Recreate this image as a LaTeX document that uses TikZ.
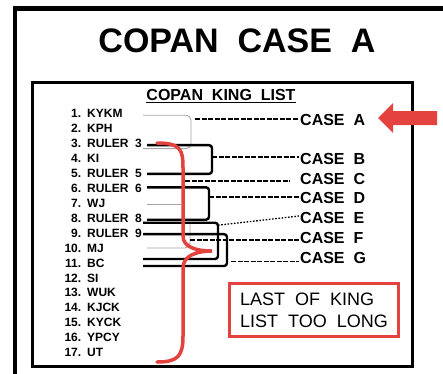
\documentclass[tikz,border=0pt]{standalone}
\usepackage{fontspec}
\setmainfont{Liberation Sans}
\usetikzlibrary{calc}

\definecolor{alertred}{RGB}{228,66,62}
\definecolor{faintgray}{RGB}{165,165,165}
\newcommand{\kingnum}[1]{\makebox[17pt][r]{#1.}\hspace{6pt}}

\begin{document}
\begin{tikzpicture}[
                x=1pt, y=-1pt,
                king/.style={anchor=west, inner sep=0pt, font=\fontsize{12}{14}\selectfont\bfseries},
                case/.style={anchor=west, inner sep=1pt, font=\fontsize{16}{18}\selectfont\bfseries},
                bracket/.style={draw=black, line width=2.4pt, rounded corners=3pt},
                faint/.style={draw=faintgray, line width=0.9pt, rounded corners=5pt},
                link/.style={draw=black, line width=1.3pt, dash pattern=on 5pt off 1.5pt},
                dotlink/.style={draw=black, line width=1.3pt, dash pattern=on 1.6pt off 1.6pt},
                brace/.style={draw=alertred, line width=3.5pt, line cap=round}
            ]
                \useasboundingbox (0,0) rectangle (443,373);

                % frames
                \draw[line width=4.5pt] (15,380) -- (15,8.5) -- (450,8.5);
                \draw[line width=3pt] (32,82) rectangle (412,366);

                \node[font=\fontsize{34}{40}\selectfont\bfseries] (title) at (237,41) {COPAN\ \ CASE\ \ A};
                \node[font=\fontsize{16}{18}\selectfont\bfseries] (listhead) at (221,96) {\underline{COPAN\ \ KING\ \ LIST}};

                % the king list
                \node[king] (k1) at (64,113.7) {\kingnum{1}KYKM};
                \node[king] (k2) at (64,128.6) {\kingnum{2}KPH};
                \node[king] (k3) at (64,143.6) {\kingnum{3}RULER\ \ 3};
                \node[king] (k4) at (64,158.5) {\kingnum{4}KI};
                \node[king] (k5) at (64,173.4) {\kingnum{5}RULER\ \ 5};
                \node[king] (k6) at (64,188.3) {\kingnum{6}RULER\ \ 6};
                \node[king] (k7) at (64,203.3) {\kingnum{7}WJ};
                \node[king] (k8) at (64,218.2) {\kingnum{8}RULER\ \ 8};
                \node[king] (k9) at (64,233.1) {\kingnum{9}RULER\ \ 9};
                \node[king] (k10) at (64,248.0) {\kingnum{10}MJ};
                \node[king] (k11) at (64,263.0) {\kingnum{11}BC};
                \node[king] (k12) at (64,277.9) {\kingnum{12}SI};
                \node[king] (k13) at (64,292.8) {\kingnum{13}WUK};
                \node[king] (k14) at (64,307.7) {\kingnum{14}KJCK};
                \node[king] (k15) at (64,322.7) {\kingnum{15}KYCK};
                \node[king] (k16) at (64,337.6) {\kingnum{16}YPCY};
                \node[king] (k17) at (64,352.5) {\kingnum{17}UT};

                % the cases
                \node[case] (caseA) at (299,120) {CASE\ \ A};
                \node[case] (caseB) at (299,158.5) {CASE\ \ B};
                \node[case] (caseC) at (299,178.5) {CASE\ \ C};
                \node[case] (caseD) at (299,198) {CASE\ \ D};
                \node[case] (caseE) at (299,218) {CASE\ \ E};
                \node[case] (caseF) at (299,237.5) {CASE\ \ F};
                \node[case] (caseG) at (299,257.5) {CASE\ \ G};

                \coordinate (tapG) at (143,0);
                \coordinate (tap) at (147,0);
                \coordinate (spineA) at (191,0);
                \coordinate (spineB) at (212,0);
                \coordinate (spineD) at (209,0);
                \coordinate (spineE) at (218,0);
                \coordinate (spineF) at (190,0);
                \coordinate (spineG) at (227,0);
                \coordinate (tipA) at (195,119);
                \coordinate (tipC) at (185,181);
                \coordinate (tipF) at (190,240);
                \coordinate (tipG) at (231,261.5);

                % brackets from the list
                \draw[faint] ($(k1 -| tapG)+(0,1.5)$) -| ($(spineA |- k3)+(0,5)$) -- ($(k3 -| tapG)+(0,5)$);
                \draw[faint] ($(k7 -| tap)+(0,1.5)$) -- ++(34,0);
                \draw[faint] ($(spineF |- k8)+(0,5)$) |- (k10 -| tap);
                \draw[bracket] ($(k3 -| tap)+(0,1.5)$) -| ($(spineB |- k5)+(0,0.5)$) -- ($(k5 -| tap)+(0,0.5)$);
                \draw[bracket] ($(k6 -| tap)+(0,-1)$) -| ($(spineD |- k8)+(0,1.5)$) -- ($(k8 -| tap)+(0,1.5)$);
                \draw[bracket] ($(k8 -| tapG)+(0,4.5)$) -| ($(spineE |- k11)+(0,-4)$) -- ($(k11 -| tapG)+(0,-4)$);
                \draw[bracket] ($(k9 -| tapG)+(0,1)$) -| ($(spineG |- k11)+(0,3)$) -- ($(k11 -| tapG)+(0,3)$);

                % links to the cases
                \draw[link] (tipA) -- (tipA -| caseA.west);
                \draw[link] ($(spineB |- caseB)+(0,-1.5)$) -- ($(caseB.west)+(0,-1.5)$);
                \draw[link, shorten >=9pt] (tipC) -- (tipC -| caseC.west);
                \draw[link] ($(spineD |- caseD)+(0,-1)$) -- ($(caseD.west)+(0,-1)$);
                \draw[dotlink] ($(spineE |- k8)+(0,7)$) -- ($(caseE.west)+(0,-2)$);
                \draw[link] (tipF) -- (tipF -| caseF.west);
                \draw[link] (tipG) -- (tipG -| caseG.west);

                % red brace over the tail of the list
                \draw[brace] (157,143) .. controls (181,143) and (183,150) .. (183,168) -- (183,236)
                    .. controls (183,247) and (196,251) .. (212,251)
                    .. controls (196,251) and (183,256) .. (183,268) -- (183,336)
                    .. controls (183,356) and (178,362) .. (157,362);

                \fill[alertred] (378,118) -- (393,103) -- (393,111) -- (437,111) -- (437,125) -- (393,125) -- (393,133) -- cycle;

                \node[draw=alertred, line width=3pt, minimum width=169pt, minimum height=53pt, align=left,
                      font=\fontsize{18}{22}\selectfont] (lastnote) at (314,310) {LAST\ \ OF\ \ KING\\LIST\ \ TOO\ \ LONG};
            \end{tikzpicture}
\end{document}
